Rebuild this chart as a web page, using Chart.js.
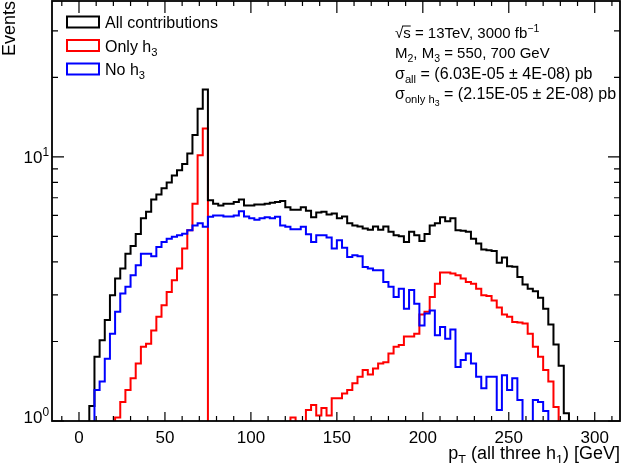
<!DOCTYPE html>
<html>
<head>
<meta charset="utf-8">
<title>pT (all three h1)</title>
<script src="https://cdn.jsdelivr.net/npm/chart.js@4.4.0/dist/chart.umd.min.js"></script>
<style>
    html, body { margin: 0; padding: 0; background: #ffffff; }
    #wrap { width: 622px; height: 463px; }
</style>
</head>
<body>
<div id="wrap"><canvas id="ptChart" width="622" height="463"></canvas></div>
<script>
'use strict'

// Binning of the histograms (GeV).
const binWidth = 3;
const binCount = 100;
const xRange = [-15.7, 314.7];
const yRange = [1, 38.9];
const xTickLabels = [0, 50, 100, 150, 200, 250, 300];
const yTickExponents = [0, 1];

// Bin contents (bin i covers [3i, 3i+3) GeV).
const allContributions = [
    0, 0, 1.14, 1.75, 2.02, 2.41, 2.99, 3.46, 3.78, 4.3,
    4.6, 5.1, 5.85, 6.2, 6.9, 7.2, 7.6, 8.0, 8.5, 8.9,
    9.4, 10.3, 12.1, 15.2, 18.0, 6.85, 6.65, 6.55, 6.65, 6.65,
    6.75, 6.9, 6.55, 6.55, 6.6, 6.6, 6.65, 6.7, 6.75, 6.8,
    6.45, 6.3, 6.3, 6.45, 6.25, 5.9, 6.15, 6.2, 6.05, 6.1,
    5.85, 5.95, 5.6, 5.5, 5.45, 5.35, 5.3, 5.45, 5.3, 5.45,
    5.2, 5.05, 5.0, 4.76, 5.2, 5.05, 4.8, 5.1, 5.5, 5.6,
    5.9, 5.7, 5.85, 5.27, 5.25, 5.2, 4.9, 4.7, 4.46, 4.43,
    4.4, 3.97, 4.16, 3.85, 3.84, 3.51, 3.29, 3.17, 3.10, 2.93,
    2.66, 2.32, 1.95, 1.62, 1.07, 0, 0, 0, 0, 0
];
const onlyH3 = [
    0, 0, 0, 0, 0, 0, 0, 1.03, 1.18, 1.31,
    1.45, 1.65, 1.91, 1.96, 2.2, 2.48, 2.74, 3.08, 3.41, 3.78,
    4.5, 5.27, 6.65, 10.15, 12.8, 0, 0, 0, 0, 0,
    0, 0, 0, 0, 0, 0, 0, 0, 0, 0,
    0, 1.03, 0, 0, 1.1, 1.15, 1.05, 1.12, 1.05, 1.22,
    1.22, 1.27, 1.31, 1.39, 1.47, 1.56, 1.5, 1.58, 1.65, 1.67,
    1.8, 1.91, 1.94, 2.09, 2.09, 2.14, 2.53, 2.59, 2.95, 3.31,
    3.65, 3.65, 3.62, 3.56, 3.46, 3.36, 3.31, 3.17, 2.99, 2.97,
    2.86, 2.69, 2.53, 2.48, 2.37, 2.36, 2.34, 2.14, 1.91, 1.75,
    1.56, 1.41, 1.13, 0, 0, 0, 0, 0, 0, 0
];
const noH3 = [
    0, 0, 0, 1.31, 1.41, 1.72, 2.14, 2.59, 3.04, 3.22,
    3.56, 3.89, 4.3, 4.3, 4.2, 4.56, 4.76, 4.9, 4.98, 5.05,
    5.12, 5.27, 5.5, 5.6, 5.44, 5.93, 6.0, 6.0, 5.95, 5.95,
    6.0, 6.23, 5.95, 5.85, 5.78, 5.85, 5.9, 5.85, 5.93, 5.5,
    5.44, 5.32, 5.32, 5.44, 5.09, 4.76, 5.05, 5.05, 4.95, 4.5,
    4.83, 4.53, 4.18, 4.24, 4.2, 3.83, 3.78, 3.72, 3.72, 3.36,
    3.22, 2.95, 3.17, 2.66, 3.13, 2.78, 2.30, 2.55, 2.62, 2.11,
    2.27, 2.05, 2.22, 1.6, 1.7, 1.8, 1.65, 1.47, 1.33, 1.47,
    1.47, 1.1, 1.49, 1.31, 1.45, 1.2, 0, 0, 1.2, 1.18,
    1.09, 0, 0, 0, 0, 0, 0, 0, 0, 0
];

// Empty bins are drawn below the frame, like ROOT does on a log axis.
const emptyFloor = 0.5;
const fontFamily = '"Liberation Sans", Arial, Helvetica, sans-serif';

window.onload = function() {
    drawChart();
}

/**
 * Turns bin contents into step points placed on the bin edges.
 */
function toSteps(values) {
    let points = new Array();

    for (let i = 0; i < binCount; i++) {
        points.push({x: i * binWidth, y: values[i] > 0 ? values[i] : emptyFloor});
    }
    points.push({x: binCount * binWidth, y: emptyFloor});

    return points;
}

/**
 * Draws text made of parts [text, level]: 0 normal, 1 sub, 2 sub-sub, -1 sup.
 * A third element 'over' draws a bar over the part (square root).
 */
function drawRich(ctx, parts, x, y, size, align) {
    const scale = {'0': 1, '1': 0.7, '2': 0.55, '-1': 0.7};
    const shift = {'0': 0, '1': 0.28, '2': 0.42, '-1': -0.42};
    let width = 0;

    parts.forEach((p) => {
        ctx.font = (size * scale[p[1]]) + 'px ' + fontFamily;
        width += ctx.measureText(p[0]).width;
    });

    let cx = (align === 'right') ? x - width : x;
    ctx.textAlign = 'left';
    ctx.textBaseline = 'alphabetic';

    parts.forEach((p) => {
        ctx.font = (size * scale[p[1]]) + 'px ' + fontFamily;
        const w = ctx.measureText(p[0]).width;
        ctx.fillText(p[0], cx, y + shift[p[1]] * size);
        if (p[2] === 'over') {
            ctx.beginPath();
            ctx.lineWidth = 1;
            ctx.moveTo(cx - 1, y - size * 0.8);
            ctx.lineTo(cx + w, y - size * 0.8);
            ctx.stroke();
        }
        cx += w;
    });
}

// Frame, inner ticks and axis labels in ROOT style.
const rootFrame = {
    id: 'rootFrame',
    afterDatasetsDraw(chart) {
        const ctx = chart.ctx;
        const a = chart.chartArea;
        const xs = chart.scales.x;
        const ys = chart.scales.y;

        ctx.save();
        ctx.strokeStyle = '#000000';
        ctx.fillStyle = '#000000';
        ctx.lineWidth = 1.8;
        ctx.strokeRect(a.left, a.top, a.right - a.left, a.bottom - a.top);

        ctx.lineWidth = 1.2;
        ctx.beginPath();
        for (let v = -10; v <= 310; v += 10) {
            const px = xs.getPixelForValue(v);
            if (px <= a.left || px >= a.right) continue;
            const major = (v % 50 === 0);
            ctx.moveTo(px, a.bottom);
            ctx.lineTo(px, a.bottom - (major ? 9 : 5));
            ctx.moveTo(px, a.top);
            ctx.lineTo(px, a.top + (major ? 12 : 5));
        }
        for (let d = 1; d <= 10; d *= 10) {
            for (let m = 1; m <= 9; m++) {
                const v = m * d;
                if (v > yRange[1]) break;
                const py = ys.getPixelForValue(v);
                const len = (m === 1) ? 12 : 6;
                ctx.moveTo(a.left, py);
                ctx.lineTo(a.left + len, py);
                ctx.moveTo(a.right, py);
                ctx.lineTo(a.right - len, py);
            }
        }
        ctx.stroke();

        // Tick labels.
        ctx.font = '17px ' + fontFamily;
        ctx.textAlign = 'center';
        ctx.textBaseline = 'alphabetic';
        xTickLabels.forEach((v) => {
            ctx.fillText(String(v), xs.getPixelForValue(v), a.bottom + 22);
        });
        yTickExponents.forEach((e) => {
            const py = Math.min(ys.getPixelForValue(Math.pow(10, e)), a.bottom - 4);
            drawRich(ctx, [['10', 0], [String(e), -1]], a.left - 3, py + 6, 17, 'right');
        });

        // Axis titles.
        drawRich(ctx, [['p', 0], ['T', 1], [' (all three h', 0], ['1', 1], [') [GeV]', 0]],
            a.right, 459, 18, 'right');
        ctx.save();
        ctx.translate(15, a.top);
        ctx.rotate(-Math.PI / 2);
        ctx.font = '18px ' + fontFamily;
        ctx.textAlign = 'right';
        ctx.textBaseline = 'alphabetic';
        ctx.fillText('Events', 0, 0);
        ctx.restore();

        // Legend.
        const legendItems = [
            {color: '#000000', parts: [['All contributions', 0]]},
            {color: '#ff0000', parts: [['Only h', 0], ['3', 1]]},
            {color: '#0000ff', parts: [['No h', 0], ['3', 1]]}
        ];
        legendItems.forEach((item, i) => {
            const cy = 22 + i * 23.5;
            ctx.lineWidth = 2;
            ctx.strokeStyle = item.color;
            ctx.strokeRect(67, cy - 5.5, 32, 11);
            ctx.fillStyle = '#000000';
            drawRich(ctx, item.parts, 105, cy + 6, 16, 'left');
        });

        // Info text.
        ctx.strokeStyle = '#000000';
        const infoLines = [
            [['√', 0], ['s', 0, 'over'], [' = 13TeV, 3000 fb', 0], ['−1', -1]],
            [['M', 0], ['2', 1], [', M', 0], ['3', 1], [' = 550, 700 GeV', 0]],
            [['σ', 0], ['all', 1], [' = (6.03E-05 ± 4E-08) pb', 0]],
            [['σ', 0], ['only h', 1], ['3', 2], [' = (2.15E-05 ± 2E-08) pb', 0]]
        ];
        const infoBaselines = [38, 58, 79, 99];
        const infoSizes = [15, 15, 16, 16];
        infoLines.forEach((parts, i) => {
            drawRich(ctx, parts, 395, infoBaselines[i], infoSizes[i], 'left');
        });

        ctx.restore();
    }
};

function drawChart() {
    const ctx = document.getElementById('ptChart').getContext('2d');
    const ptChart = new Chart(ctx, {
        type: 'line',
        data: {
            datasets: [{
                label: 'All contributions',
                data: toSteps(allContributions),
                borderColor: '#000000',
                borderWidth: 2,
                stepped: 'before',
                fill: false,
                order: 2
            }, {
                label: 'Only h3',
                data: toSteps(onlyH3),
                borderColor: '#ff0000',
                borderWidth: 2,
                stepped: 'before',
                fill: false,
                order: 3
            }, {
                label: 'No h3',
                data: toSteps(noH3),
                borderColor: '#0000ff',
                borderWidth: 2,
                stepped: 'before',
                fill: false,
                order: 1
            }]
        },
        options: {
            responsive: false,
            animation: false,
            devicePixelRatio: 1,
            layout: {
                padding: {left: 52, right: 2, top: 1, bottom: 42}
            },
            elements: {
                point: {radius: 0, hoverRadius: 0}
            },
            scales: {
                x: {type: 'linear', min: xRange[0], max: xRange[1], display: false},
                y: {type: 'logarithmic', min: yRange[0], max: yRange[1], display: false}
            },
            plugins: {
                legend: {display: false},
                tooltip: {enabled: false}
            }
        },
        plugins: [rootFrame]
    });
}
</script>
</body>
</html>
